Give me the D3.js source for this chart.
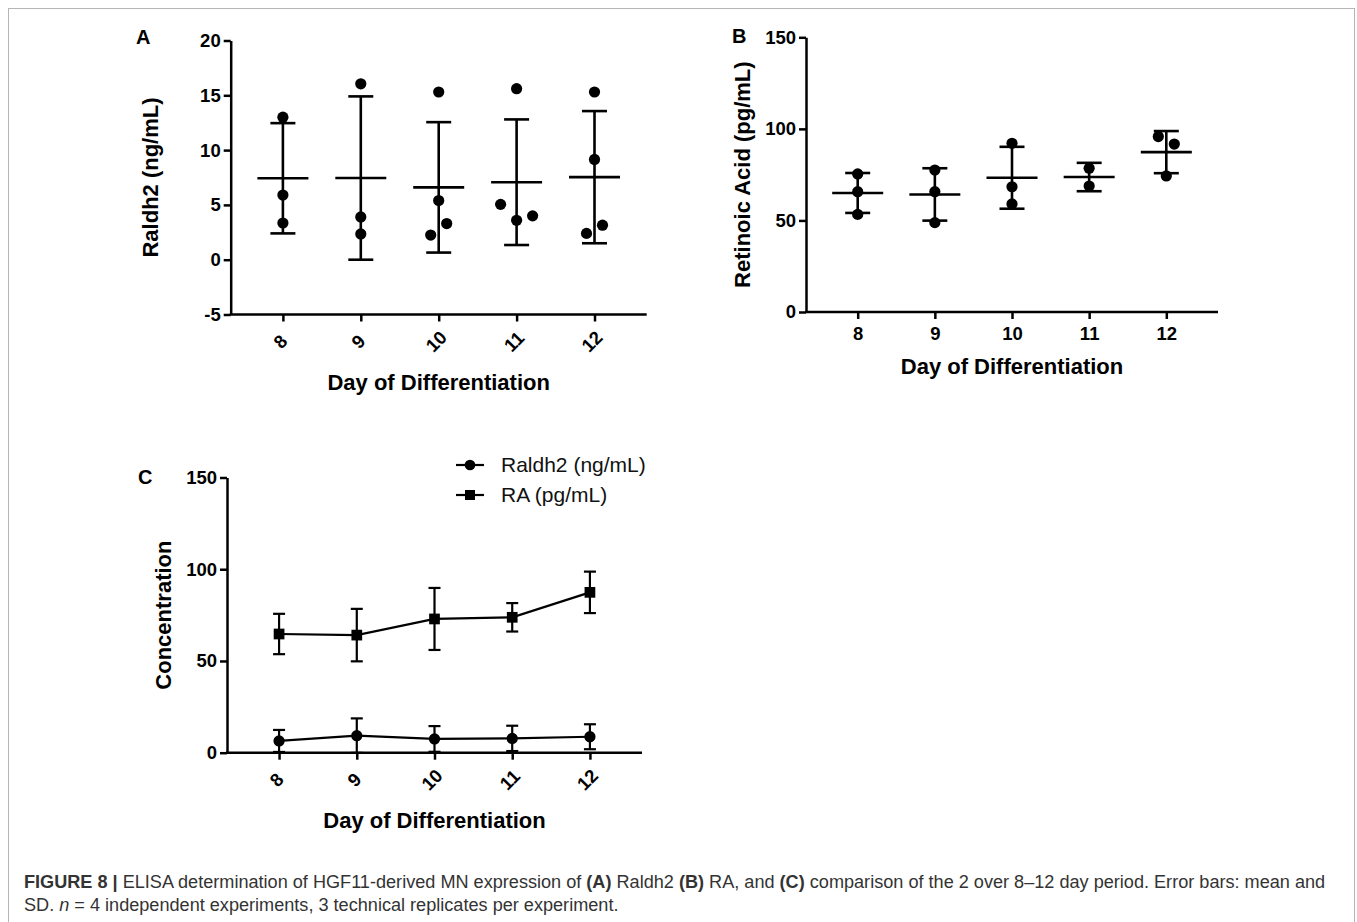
<!DOCTYPE html>
<html>
<head>
<meta charset="utf-8">
<script src="https://cdn.jsdelivr.net/npm/d3@7"></script>
<style>
  body { margin: 0; background: #fff; }
  svg text { font-family: "Liberation Sans", Arial, sans-serif; }
</style>
</head>
<body>
<div id="chart"></div>
<script>
// data
const days = [8, 9, 10, 11, 12];

// panel A - Raldh2 (ng/mL), mean and SD per day
const raldhMean = [7.43, 7.45, 6.6, 7.07, 7.53];
const raldhSD = [5.03, 7.45, 5.95, 5.73, 6.03];
// replicate values per day, and a side slot for points that overlap
const raldhPoints = [[13.0, 5.9, 3.35], [16.05, 3.9, 2.35], [15.3, 5.4, 3.3, 2.25], [15.6, 5.05, 3.6, 4.0], [15.3, 9.15, 2.4, 3.15]];
const raldhSlots = [[0, 0, 0], [0, 0, 0], [0, 0, 1, -1], [0, -2, 0, 2], [0, 0, -1, 1]];

// panel B - Retinoic acid (pg/mL)
const raMean = [65.0, 64.2, 73.3, 73.7, 87.3];
const raSD = [10.9, 14.3, 16.9, 7.75, 11.5];
const raPoints = [[75.4, 65.7, 53.3], [77.5, 65.7, 48.8], [92.1, 68.4, 59.0], [78.5, 68.8], [95.8, 91.7, 74.3]];
const raSlots = [[0, 0, 0], [0, 0, 0], [0, 0, 0], [0, 0], [-1, 1, 0]];

// panel C - comparison
const cRaldhMean = [6.4, 9.3, 7.5, 7.8, 8.7];
const cRaldhSD = [6.0, 9.4, 7.0, 6.9, 6.8];
const cRaMean = [64.7, 64.1, 72.9, 73.8, 87.4];
const cRaSD = [11.0, 14.3, 16.9, 7.75, 11.3];

const ticksA = [-5, 0, 5, 10, 15, 20];
const ticksB = [0, 50, 100, 150];
const seriesNames = ["Raldh2 (ng/mL)", "RA (pg/mL)"];

const width = 1357, height = 922;
const svg = d3.select("#chart").append("svg")
    .attr("width", width)
    .attr("height", height);

// figure frame
svg.append("rect")
    .attr("x", 8.5).attr("y", 8.5)
    .attr("width", 1346).attr("height", 1000)
    .attr("fill", "none")
    .attr("stroke", "#b5b5b5")
    .attr("stroke-width", 1);

function makeAxes(p) {
  let x = d3.scalePoint().domain(days).range([p.left, p.right]).padding(0.67);
  let y = d3.scaleLinear().domain(p.domain).range([p.bottom, p.top]);

  let yAxis = svg.append("g")
      .attr("transform", `translate(${p.left},0)`)
      .call(d3.axisLeft(y).tickValues(p.ticks).tickFormat(function(d) { return String(d); })
        .tickSize(7).tickSizeOuter(0).tickPadding(3));
  let xAxis = svg.append("g")
      .attr("transform", `translate(0,${p.bottom})`)
      .call(d3.axisBottom(x).tickSize(7).tickSizeOuter(0).tickPadding(8));

  [xAxis, yAxis].forEach(function(a) {
    a.selectAll("path, line").attr("stroke", "#000").attr("stroke-width", 2.5);
    a.selectAll("text").attr("fill", "#000")
        .style("font-size", "18.5px").style("font-weight", "bold");
  });
  // keep the axis lines meeting at the corner
  xAxis.select(".domain").attr("d", `M${p.left - 1},0H${p.right}`);

  if (p.rotate) {
    xAxis.selectAll(".tick text")
        .attr("y", null).attr("dy", "0.35em")
        .style("text-anchor", "middle")
        .attr("transform", "translate(-3,27) rotate(-45)");
  }

  svg.append("text")
      .attr("transform", `translate(${p.ytitleX},${(p.top + p.bottom) / 2}) rotate(-90)`)
      .attr("text-anchor", "middle")
      .attr("dy", "0.35em")
      .style("font-size", "22px").style("font-weight", "bold")
      .text(p.ytitle);

  svg.append("text")
      .attr("x", (p.left + p.right) / 2)
      .attr("y", p.xtitleY)
      .attr("text-anchor", "middle")
      .style("font-size", "22px").style("font-weight", "bold")
      .text("Day of Differentiation");

  svg.append("text")
      .attr("x", p.labelX).attr("y", p.labelY)
      .style("font-size", "20px").style("font-weight", "bold")
      .text(p.label);

  return {x: x, y: y};
}

// mean line + SD whiskers + replicate dots
function scatterPanel(s, means, sds, points, slots) {
  let g = svg.append("g");
  days.forEach(function(d, i) {
    let cx = s.x(d);
    let hi = s.y(means[i] + sds[i]), lo = s.y(means[i] - sds[i]);
    g.append("line").attr("x1", cx).attr("x2", cx).attr("y1", hi).attr("y2", lo);
    g.append("line").attr("x1", cx - 12.5).attr("x2", cx + 12.5).attr("y1", hi).attr("y2", hi);
    g.append("line").attr("x1", cx - 12.5).attr("x2", cx + 12.5).attr("y1", lo).attr("y2", lo);
    g.append("line").attr("x1", cx - 25.5).attr("x2", cx + 25.5)
        .attr("y1", s.y(means[i])).attr("y2", s.y(means[i]));
    points[i].forEach(function(v, j) {
      g.append("circle")
          .attr("cx", cx + slots[i][j] * 8)
          .attr("cy", s.y(v))
          .attr("r", 5.6)
          .attr("fill", "#000");
    });
  });
  g.selectAll("line").attr("stroke", "#000").attr("stroke-width", 2.6);
}

// ---- panel A
let sA = makeAxes({left: 230.7, right: 646.7, top: 40.5, bottom: 314.5, domain: [-5, 20], ticks: ticksA,
  rotate: true, ytitle: "Raldh2 (ng/mL)", ytitleX: 150, xtitleY: 390, label: "A", labelX: 136, labelY: 44});
scatterPanel(sA, raldhMean, raldhSD, raldhPoints, raldhSlots);

// ---- panel B
let sB = makeAxes({left: 806, right: 1218, top: 37.3, bottom: 312, domain: [0, 150], ticks: ticksB,
  rotate: false, ytitle: "Retinoic Acid (pg/mL)", ytitleX: 742, xtitleY: 374, label: "B", labelX: 732, labelY: 43});
scatterPanel(sB, raMean, raSD, raPoints, raSlots);

// ---- panel C
let sC = makeAxes({left: 227, right: 642, top: 477.5, bottom: 752.7, domain: [0, 150], ticks: ticksB,
  rotate: true, ytitle: "Concentration", ytitleX: 163, xtitleY: 828, label: "C", labelX: 138, labelY: 484});

function lineSeries(s, means, sds, marker) {
  let g = svg.append("g");
  days.forEach(function(d, i) {
    let cx = s.x(d);
    let hi = s.y(means[i] + sds[i]), lo = s.y(means[i] - sds[i]);
    g.append("line").attr("x1", cx).attr("x2", cx).attr("y1", hi).attr("y2", lo);
    g.append("line").attr("x1", cx - 6).attr("x2", cx + 6).attr("y1", hi).attr("y2", hi);
    g.append("line").attr("x1", cx - 6).attr("x2", cx + 6).attr("y1", lo).attr("y2", lo);
  });
  g.selectAll("line").attr("stroke", "#000").attr("stroke-width", 2.2);

  g.append("path")
      .datum(means)
      .attr("fill", "none")
      .attr("stroke", "#000")
      .attr("stroke-width", 2.2)
      .attr("d", d3.line()
        .x(function(v, i) { return s.x(days[i]); })
        .y(function(v) { return s.y(v); }));

  g.selectAll(".mk").data(means).enter()
      .append("path")
      .attr("transform", function(v, i) { return `translate(${s.x(days[i])},${s.y(v)})`; })
      .attr("d", d3.symbol().type(marker).size(marker === d3.symbolSquare ? 115 : 100))
      .attr("fill", "#000");
}
lineSeries(sC, cRaldhMean, cRaldhSD, d3.symbolCircle);
lineSeries(sC, cRaMean, cRaSD, d3.symbolSquare);

// legend
let legend = svg.append("g").attr("transform", "translate(456,465)");
[d3.symbolCircle, d3.symbolSquare].forEach(function(m, i) {
  let row = legend.append("g").attr("transform", `translate(0,${i * 30})`);
  row.append("line").attr("x1", 0).attr("x2", 28).attr("y1", 0).attr("y2", 0)
      .attr("stroke", "#000").attr("stroke-width", 2.2);
  row.append("path").attr("transform", "translate(14,0)")
      .attr("d", d3.symbol().type(m).size(i ? 100 : 90)).attr("fill", "#000");
  row.append("text").attr("x", 45).attr("dy", "0.35em")
      .style("font-size", "21px").attr("fill", "#111")
      .text(seriesNames[i]);
});

// caption
let cap = svg.append("g").attr("fill", "#333").style("font-size", "15px");
let line1 = cap.append("text").attr("x", 24).attr("y", 888);
line1.append("tspan").style("font-weight", "bold").text("FIGURE 8 | ");
line1.append("tspan").text("ELISA determination of HGF11-derived MN expression of ");
line1.append("tspan").style("font-weight", "bold").text("(A)");
line1.append("tspan").text(" Raldh2 ");
line1.append("tspan").style("font-weight", "bold").text("(B)");
line1.append("tspan").text(" RA, and ");
line1.append("tspan").style("font-weight", "bold").text("(C)");
line1.append("tspan").text(" comparison of the 2 over 8–12 day period. Error bars: mean and");
let line2 = cap.append("text").attr("x", 24).attr("y", 911);
line2.append("tspan").text("SD. ");
line2.append("tspan").style("font-style", "italic").text("n");
line2.append("tspan").text(" = 4 independent experiments, 3 technical replicates per experiment.");

// stretch caption font so the first line spans the frame like the original
let len = line1.node().getComputedTextLength();
let fs = 15 * (1302 / len);
cap.style("font-size", fs + "px");
</script>
</body>
</html>
